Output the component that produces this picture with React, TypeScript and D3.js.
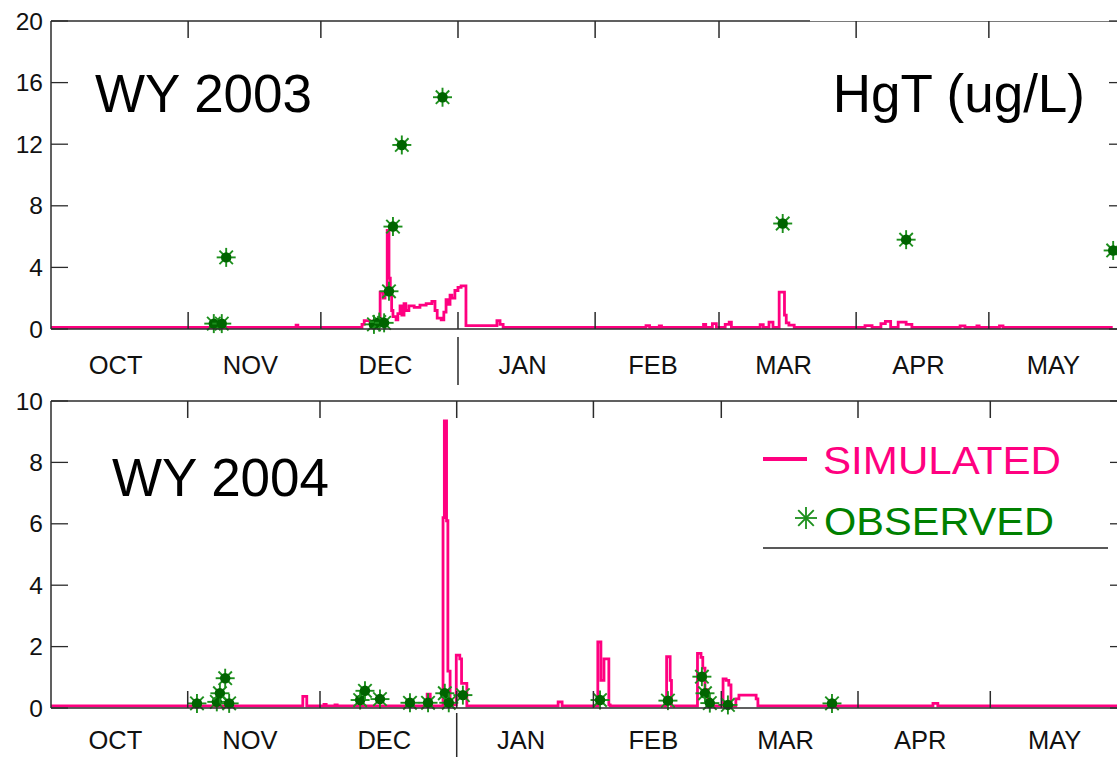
import React from "react";
import * as d3 from "d3";

// Month labels along each water-year axis
const MONTHS = ["OCT", "NOV", "DEC", "JAN", "FEB", "MAR", "APR", "MAY"];

// Y-axis ticks (HgT, ug/L)
const Y_TICKS_2003 = [0, 4, 8, 12, 16, 20];
const Y_TICKS_2004 = [0, 2, 4, 6, 8, 10];

// Simulated HgT, WY 2003: step breakpoints as days since Oct 1 and value
const SIM2003_DAY = [
  0, 55.4, 55.8, 70.3, 70.8, 72.1, 72.8, 73.5, 74.4, 75.1, 75.5, 76.0, 76.4,
  76.7, 77.0, 77.3, 78.0, 78.4, 78.9, 79.3, 79.8, 80.2, 80.9, 82.1, 83.4, 84.8,
  86.1, 86.8, 87.3, 88.2, 88.8, 89.3, 89.7, 90.2, 90.6, 91.3, 92.0, 92.7, 93.8,
  100.8, 101.5, 102.2, 134.5, 135.3, 137.5, 138.0, 147.5, 148.0, 149.5, 150.4,
  152.4, 153.3, 153.8, 160.3, 161.0, 162.3, 163.2, 164.6, 165.8, 166.2, 166.8,
  168.0, 184.0, 185.6, 187.6, 188.6, 189.8, 191.5, 193.3, 194.6, 205.5,
  206.6, 209.3, 209.8, 214.4, 215.2, 240.0,
];
const SIM2003_VAL = [
  0.1, 0.25, 0.1, 0.3, 0.55, 0.4, 0.2, 0.35, 2.4, 2.0, 2.3, 6.4, 3.3,
  2.2, 1.2, 0.8, 0.6, 1.0, 1.5, 0.9, 1.65, 1.2, 1.5, 1.4, 1.55, 1.65,
  1.8, 1.2, 0.7, 0.6, 1.1, 1.9, 1.6, 2.2, 2.0, 2.5, 2.7, 2.8, 0.22,
  0.55, 0.3, 0.1, 0.22, 0.1, 0.2, 0.1, 0.3, 0.1, 0.35, 0.1,
  0.3, 0.45, 0.1, 0.28, 0.1, 0.45, 0.1, 2.4, 0.9, 0.4, 0.25,
  0.1, 0.22, 0.1, 0.35, 0.5, 0.1, 0.45, 0.3, 0.1, 0.2,
  0.1, 0.2, 0.1, 0.2, 0.1, 0.1,
];

// Observed HgT, WY 2003
const OBS2003_DAY = [36.8, 38.6, 39.6, 73.0, 74.2, 75.3, 76.4, 77.3, 79.3, 88.5, 165.4, 193.3, 240.1];
const OBS2003_VAL = [0.35, 0.35, 4.65, 0.3, 0.45, 0.4, 2.45, 6.65, 11.95, 15.05, 6.85, 5.8, 5.1];

// Simulated HgT, WY 2004
const SIM2004_DAY = [
  0, 57.1, 58.0, 61.9, 62.4, 64.4, 64.9, 85.3, 86.0, 88.9, 89.2, 89.7, 90.0,
  90.5, 91.9, 92.7, 93.1, 94.3, 115.0, 115.9, 124.0, 124.7, 125.4, 126.5,
  126.8, 139.6, 140.4, 140.7, 146.6, 147.4, 147.8, 148.3, 149.0, 149.4,
  152.4, 153.1, 153.7, 154.2, 155.3, 156.0, 159.9, 160.3, 200.0, 201.1, 245.0,
];
const SIM2004_VAL = [
  0.07, 0.38, 0.07, 0.12, 0.07, 0.1, 0.07, 0.45, 0.07, 6.2, 9.35, 6.1, 1.2,
  0.1, 1.72, 1.6, 0.8, 0.07, 0.2, 0.07, 2.15, 0.9, 1.6, 0.1,
  0.07, 1.67, 0.9, 0.07, 1.78, 1.65, 1.3, 0.6, 0.3, 0.07,
  0.95, 0.9, 0.75, 0.07, 0.3, 0.42, 0.3, 0.07, 0.15, 0.07, 0.07,
];

// Observed HgT, WY 2004
const OBS2004_DAY = [
  33.1, 37.6, 38.3, 39.5, 40.4, 70.1, 71.2, 74.6, 81.4, 85.5, 89.3, 90.2, 93.4,
  124.5, 139.9, 147.6, 148.3, 149.4, 153.5, 177.1,
];
const OBS2004_VAL = [
  0.15, 0.2, 0.48, 0.97, 0.15, 0.26, 0.56, 0.29, 0.17, 0.17, 0.48, 0.17, 0.42,
  0.26, 0.24, 1.02, 0.48, 0.16, 0.1, 0.15,
];

const PINK = "#ff0080";
const GREEN = "#1c8f1c";
const DARK_GREEN = "#006400";
const AXIS = "#2b2b2b";
const FONT = "Arial, 'Liberation Sans', Helvetica, sans-serif";
const DAY_MS = 86400000;

type Panel = {
  startYear: number;
  x0: number;
  x1: number;
  yTop: number;
  yBot: number;
  yMax: number;
  yTicks: number[];
  simDay: number[];
  simVal: number[];
  obsDay: number[];
  obsVal: number[];
  title: string;
  titleX: number;
  titleY: number;
  monthBaseline: number;
  sepY: [number, number];
  units: boolean;
  legend: boolean;
  frameFadeFrom: number | null;
};

const PANELS: Panel[] = [
  {
    startYear: 2002, x0: 51, x1: 1126, yTop: 21, yBot: 329, yMax: 20,
    yTicks: Y_TICKS_2003, simDay: SIM2003_DAY, simVal: SIM2003_VAL,
    obsDay: OBS2003_DAY, obsVal: OBS2003_VAL,
    title: "WY 2003", titleX: 95, titleY: 112, monthBaseline: 374,
    sepY: [337, 385], units: true, legend: false, frameFadeFrom: 810,
  },
  {
    startYear: 2003, x0: 51, x1: 1127, yTop: 401, yBot: 708, yMax: 10,
    yTicks: Y_TICKS_2004, simDay: SIM2004_DAY, simVal: SIM2004_VAL,
    obsDay: OBS2004_DAY, obsVal: OBS2004_VAL,
    title: "WY 2004", titleX: 112, titleY: 496, monthBaseline: 749,
    sepY: [713, 757], units: false, legend: true, frameFadeFrom: null,
  },
];

function Star({ x, y, r, filled, width }: { x: number; y: number; r: number; filled: boolean; width: number }) {
  const spokes = d3.range(8).map((k) => (k * Math.PI) / 4);
  return (
    <g>
      {spokes.map((a, i) => (
        <line
          key={i}
          x1={x}
          y1={y}
          x2={x + r * Math.cos(a)}
          y2={y + r * Math.sin(a)}
          stroke={GREEN}
          strokeWidth={width}
        />
      ))}
      {filled && <circle cx={x} cy={y} r={r * 0.55} fill={DARK_GREEN} />}
    </g>
  );
}

function PanelView({ p }: { p: Panel }) {
  const start = new Date(Date.UTC(p.startYear, 9, 1));
  const end = new Date(Date.UTC(p.startYear + 1, 5, 1));
  const x = d3.scaleUtc().domain([start, end]).range([p.x0, p.x1]);
  const y = d3.scaleLinear().domain([0, p.yMax]).range([p.yBot, p.yTop]);
  const dayToDate = (d: number) => new Date(start.getTime() + d * DAY_MS);

  const monthStarts = d3.utcMonth.range(start, d3.utcMonth.offset(end, 1));
  const boundaries = monthStarts.slice(1, MONTHS.length);

  const sim = p.simDay.map((d, i) => [dayToDate(d), p.simVal[i]] as [Date, number]);
  const line = d3
    .line<[Date, number]>()
    .x((d) => x(d[0]))
    .y((d) => y(d[1]))
    .curve(d3.curveStepAfter);

  const tickLen = 17;
  const xRight = p.x1;
  const janX = x(new Date(Date.UTC(p.startYear + 1, 0, 1)));

  return (
    <g>
      {/* simulated series */}
      <path d={line(sim) || ""} fill="none" stroke={PINK} strokeWidth={2.8} strokeLinejoin="miter" />

      {/* observed samples */}
      {p.obsDay.map((d, i) => (
        <Star key={i} x={x(dayToDate(d))} y={y(p.obsVal[i])} r={9.5} filled width={1.9} />
      ))}

      {/* frame */}
      <line x1={p.x0} x2={p.x0} y1={p.yTop} y2={p.yBot} stroke={AXIS} strokeWidth={1.5} />
      <line x1={p.x0} x2={xRight} y1={p.yBot} y2={p.yBot} stroke={AXIS} strokeWidth={1.5} />
      {p.frameFadeFrom === null ? (
        <line x1={p.x0} x2={xRight} y1={p.yTop} y2={p.yTop} stroke={AXIS} strokeWidth={1.5} />
      ) : (
        <g>
          <line x1={p.x0} x2={p.frameFadeFrom} y1={p.yTop} y2={p.yTop} stroke={AXIS} strokeWidth={1.6} />
          <line x1={p.frameFadeFrom} x2={xRight} y1={p.yTop + 0.5} y2={p.yTop + 0.5} stroke="#7a7a7a" strokeWidth={1.1} />
        </g>
      )}
      <line x1={xRight} x2={xRight} y1={p.yTop} y2={p.yBot} stroke={AXIS} strokeWidth={1.5} />

      {/* y ticks, both sides */}
      {p.yTicks.map((t) => (
        <g key={t}>
          <line x1={p.x0} x2={p.x0 + tickLen} y1={y(t)} y2={y(t)} stroke={AXIS} strokeWidth={1.3} />
          <line x1={xRight - tickLen} x2={xRight} y1={y(t)} y2={y(t)} stroke={AXIS} strokeWidth={1.3} />
          <text
            x={43}
            y={y(t)}
            textAnchor="end"
            dominantBaseline="central"
            fontFamily={FONT}
            fontSize={24.5}
            fill="#111"
          >
            {t}
          </text>
        </g>
      ))}

      {/* month ticks, top and bottom */}
      {boundaries.map((m, i) => (
        <g key={i}>
          <line x1={x(m)} x2={x(m)} y1={p.yTop} y2={p.yTop + tickLen} stroke={AXIS} strokeWidth={1.5} />
          <line x1={x(m)} x2={x(m)} y1={p.yBot - tickLen} y2={p.yBot} stroke={AXIS} strokeWidth={1.5} />
        </g>
      ))}

      {/* month names, near the middle of each month */}
      {MONTHS.map((name, i) => {
        const a = monthStarts[i];
        const b = monthStarts[i + 1];
        return (
          <text
            key={name}
            x={(x(a) + x(b)) / 2 - 4}
            y={p.monthBaseline}
            textAnchor="middle"
            fontFamily={FONT}
            fontSize={25.5}
            fill="#111"
          >
            {name}
          </text>
        );
      })}

      {/* calendar-year divider */}
      <line x1={janX} x2={janX} y1={p.sepY[0]} y2={p.sepY[1]} stroke={AXIS} strokeWidth={1.5} />

      <text x={p.titleX} y={p.titleY} fontFamily={FONT} fontSize={53} fill="#000">
        {p.title}
      </text>

      {p.units && (
        <text x={1085} y={112} textAnchor="end" fontFamily={FONT} fontSize={53} fill="#000">
          HgT (ug/L)
        </text>
      )}

      {p.legend && (
        <g>
          <line x1={763} x2={807} y1={459} y2={459} stroke={PINK} strokeWidth={4} />
          <text x={823} y={474} fontFamily={FONT} fontSize={38} fill={PINK} textLength={238} lengthAdjust="spacingAndGlyphs">
            SIMULATED
          </text>
          <Star x={806} y={518} r={11} filled={false} width={1.8} />
          <text x={824} y={535} fontFamily={FONT} fontSize={39} fill="#008000" textLength={230} lengthAdjust="spacingAndGlyphs">
            OBSERVED
          </text>
          <line x1={763} x2={1108} y1={548} y2={548} stroke="#222" strokeWidth={1.3} />
        </g>
      )}
    </g>
  );
}

export default function App() {
  return (
    <svg
      width={1117}
      height={757}
      viewBox="0 0 1117 757"
      style={{ position: "absolute", left: 0, top: 0, background: "#fff" }}
    >
      <rect width={1117} height={757} fill="#fff" />
      {PANELS.map((p) => (
        <PanelView key={p.title} p={p} />
      ))}
    </svg>
  );
}
